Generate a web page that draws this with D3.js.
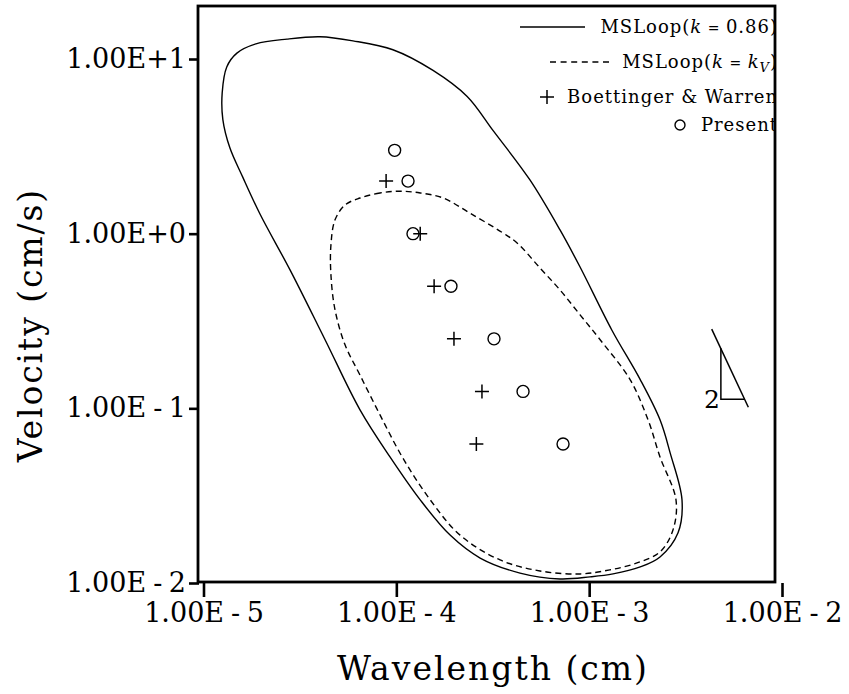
<html>
<head>
<meta charset="utf-8">
<title>MSLoop</title>
<script src="https://d3js.org/d3.v7.min.js"></script>
<style>
  body { margin: 0; background: #fff; }
  text { font-family: "DejaVu Serif", serif; fill: #000; }
</style>
</head>
<body>
<div id="chart"></div>
<script>
// ticks
var xTicks = [1e-5, 1e-4, 1e-3, 1e-2];
var yTicks = [1e-2, 1e-1, 1, 10];
var xTickLabels = ["1.00E-5", "1.00E-4", "1.00E-3", "1.00E-2"];
var yTickLabels = ["1.00E-2", "1.00E-1", "1.00E+0", "1.00E+1"];

// MSLoop k = 0.86 (solid) - wavelength (cm), velocity (cm/s)
var loopSolidX = [4.02e-5, 2.71e-5, 1.87e-5, 1.49e-5, 1.32e-5, 1.25e-5, 1.26e-5, 1.37e-5, 1.60e-5, 1.96e-5,
  2.81e-5, 4.27e-5, 6.48e-5, 9.27e-5, 1.33e-4, 1.90e-4, 2.72e-4, 4.38e-4, 7.06e-4, 1.01e-3,
  1.33e-3, 1.84e-3, 2.33e-3, 2.89e-3, 3.03e-3, 2.63e-3, 2.33e-3, 1.84e-3, 1.31e-3, 8.97e-4,
  7.06e-4, 4.93e-4, 3.17e-4, 2.33e-4, 1.55e-4, 9.6e-5, 5.96e-5];
var loopSolidV = [13.4, 13.0, 12.2, 10.8, 9.0, 6.4, 4.5, 3.1, 2.1, 1.3,
  0.62, 0.247, 0.098, 0.0527, 0.0299, 0.0188, 0.0139, 0.0114, 0.01055, 0.01084,
  0.01127, 0.01236, 0.0141, 0.0194, 0.0299, 0.0556, 0.0859, 0.146, 0.281, 0.644,
  1.05, 2.03, 3.9, 6.1, 8.6, 11.3, 12.7];

// MSLoop k = kV (dashed)
var loopDashX = [1.05e-4, 8.23e-5, 6.48e-5, 5.42e-5, 4.81e-5, 4.58e-5, 4.58e-5, 4.81e-5, 5.42e-5, 6.48e-5,
  8.23e-5, 1.08e-4, 1.50e-4, 2.14e-4, 3.45e-4, 5.56e-4, 8.97e-4, 1.28e-3, 1.77e-3, 2.33e-3,
  2.72e-3, 2.82e-3, 2.33e-3, 2.02e-3, 1.63e-3, 1.14e-3, 8.97e-4, 7.06e-4, 5.56e-4, 4.23e-4,
  3.57e-4, 2.41e-4, 1.75e-4, 1.33e-4];
var loopDashV = [1.75, 1.71, 1.60, 1.46, 1.20, 0.861, 0.58, 0.366, 0.231, 0.155,
  0.0917, 0.052, 0.0299, 0.0188, 0.01355, 0.01172, 0.01127, 0.01189, 0.01303, 0.01507,
  0.0201, 0.0299, 0.0527, 0.0859, 0.146, 0.247, 0.343, 0.476, 0.636, 0.885,
  1.01, 1.31, 1.60, 1.71];

// Boettinger & Warren (+)
var bwX = [8.85e-5, 1.33e-4, 1.57e-4, 1.99e-4, 2.78e-4, 2.60e-4];
var bwV = [2, 1, 0.5, 0.25, 0.125, 0.0625];

// Present (o)
var presentX = [9.8e-5, 1.15e-4, 1.22e-4, 1.92e-4, 3.21e-4, 4.54e-4, 7.32e-4];
var presentV = [3, 2, 1, 0.5, 0.25, 0.125, 0.0625];

// slope triangle (slope 2)
var slopeX = [4.32e-3, 6.69e-3];
var slopeV = [0.284, 0.1014];
var triX = [4.82e-3, 4.82e-3, 6.36e-3];
var triV = [0.221, 0.1128, 0.1128];

var W = 849, H = 694;
var svg = d3.select("#chart").append("svg")
  .attr("width", W).attr("height", H);

var x = d3.scaleLog().domain([1e-5, 1e-2]).range([203.5, 782]);
var y = d3.scaleLog().domain([1e-2, 10]).range([583, 59]);

var fL = 198, fR = 775, fT = 6, fB = 582;

// clip to frame
svg.append("clipPath").attr("id", "clip")
  .append("rect").attr("x", fL).attr("y", fT).attr("width", fR - fL).attr("height", fB - fT);

var plot = svg.append("g").attr("clip-path", "url(#clip)");

var line = d3.line()
  .x(function(d) { return x(d[0]); })
  .y(function(d) { return y(d[1]); })
  .curve(d3.curveCatmullRomClosed.alpha(0.5));

plot.append("path")
  .datum(d3.zip(loopSolidX, loopSolidV))
  .attr("d", line)
  .attr("fill", "none").attr("stroke", "#000").attr("stroke-width", 1.4);

plot.append("path")
  .datum(d3.zip(loopDashX, loopDashV))
  .attr("d", line)
  .attr("fill", "none").attr("stroke", "#000").attr("stroke-width", 1.4)
  .attr("stroke-dasharray", "6,4");

// markers
var cross = 7;
plot.append("g").selectAll("path")
  .data(d3.zip(bwX, bwV)).enter().append("path")
  .attr("d", function(d) {
    var cx = x(d[0]), cy = y(d[1]);
    return "M" + (cx - cross) + "," + cy + "H" + (cx + cross) + "M" + cx + "," + (cy - cross) + "V" + (cy + cross);
  })
  .attr("stroke", "#000").attr("stroke-width", 1.5);

plot.append("g").selectAll("circle")
  .data(d3.zip(presentX, presentV)).enter().append("circle")
  .attr("cx", function(d) { return x(d[0]); })
  .attr("cy", function(d) { return y(d[1]); })
  .attr("r", 6)
  .attr("fill", "none").attr("stroke", "#000").attr("stroke-width", 1.4);

// slope triangle
var straight = d3.line().x(function(d) { return x(d[0]); }).y(function(d) { return y(d[1]); });
plot.append("path").datum(d3.zip(slopeX, slopeV)).attr("d", straight)
  .attr("fill", "none").attr("stroke", "#000").attr("stroke-width", 1.5);
plot.append("path").datum(d3.zip(triX, triV)).attr("d", straight)
  .attr("fill", "none").attr("stroke", "#000").attr("stroke-width", 1.5);
plot.append("text")
  .attr("x", x(triX[1]) - 1).attr("y", y(triV[1]) + 9)
  .attr("text-anchor", "end")
  .style("font-size", "25px")
  .text("2");

// legend
var leg = plot.append("g").style("font-size", "18px").style("letter-spacing", "1px");
var lx = 778;
leg.append("line").attr("x1", 520).attr("x2", 585).attr("y1", 27).attr("y2", 27)
  .attr("stroke", "#000").attr("stroke-width", 1.4);
var t1 = leg.append("text").attr("x", lx).attr("y", 33).attr("text-anchor", "end");
t1.append("tspan").text("MSLoop(");
t1.append("tspan").style("font-style", "italic").text("k");
t1.append("tspan").style("font-size", "14px").text(" = ");
t1.append("tspan").text("0.86)");

leg.append("line").attr("x1", 550).attr("x2", 611).attr("y1", 62).attr("y2", 62)
  .attr("stroke", "#000").attr("stroke-width", 1.4).attr("stroke-dasharray", "6,4.6");
var t2 = leg.append("text").attr("x", lx).attr("y", 68).attr("text-anchor", "end");
t2.append("tspan").text("MSLoop(");
t2.append("tspan").style("font-style", "italic").text("k");
t2.append("tspan").style("font-size", "14px").text(" = ");
t2.append("tspan").style("font-style", "italic").text("k");
t2.append("tspan").style("font-style", "italic").style("font-size", "13px").attr("dy", 4).text("V");
t2.append("tspan").attr("dy", -4).text(")");

leg.append("path").attr("d", "M540,97H554M547,90V104")
  .attr("stroke", "#000").attr("stroke-width", 1.5);
leg.append("text").attr("x", lx).attr("y", 103).attr("text-anchor", "end").text("Boettinger & Warren");

leg.append("circle").attr("cx", 680).attr("cy", 125).attr("r", 5)
  .attr("fill", "none").attr("stroke", "#000").attr("stroke-width", 1.4);
leg.append("text").attr("x", lx).attr("y", 131).attr("text-anchor", "end").text("Present");

// frame
svg.append("rect").attr("x", fL).attr("y", fT).attr("width", fR - fL).attr("height", fB - fT)
  .attr("fill", "none").attr("stroke", "#000").attr("stroke-width", 2.8);

// tick labels: the minus sign is set as wide as the plus sign
function sciLabel(sel) {
  sel.each(function() {
    var t = d3.select(this), s = t.text();
    var k = s.indexOf("E") + 1, sign = s.charAt(k);
    t.text(null);
    t.append("tspan").text(s.slice(0, k));
    var pad = sign === "-" ? 6.5 : 0;
    t.append("tspan").attr("dx", pad).text(sign);
    t.append("tspan").attr("dx", pad).text(s.slice(k + 1));
  });
}

var xAxis = svg.append("g").attr("transform", "translate(0," + 583 + ")")
  .call(d3.axisBottom(x).tickValues(xTicks).tickSize(14).tickPadding(6)
    .tickFormat(function(d, i) { return xTickLabels[i]; }));
xAxis.select(".domain").remove();
xAxis.selectAll(".tick line").attr("stroke-width", 2.6);
xAxis.selectAll("text").style("font-size", "27px").style("font-family", "DejaVu Serif").call(sciLabel);

var yAxis = svg.append("g").attr("transform", "translate(" + 199 + ",0)")
  .call(d3.axisLeft(y).tickValues(yTicks).tickSize(10).tickPadding(3)
    .tickFormat(function(d, i) { return yTickLabels[i]; }));
yAxis.select(".domain").remove();
yAxis.selectAll(".tick line").attr("stroke-width", 2.6);
yAxis.selectAll("text").style("font-size", "27px").style("font-family", "DejaVu Serif").call(sciLabel);

// titles
svg.append("text").attr("x", 493).attr("y", 680).attr("text-anchor", "middle")
  .style("font-size", "33px").style("letter-spacing", "2px").text("Wavelength (cm)");
svg.append("text").attr("transform", "translate(42,325) rotate(-90)")
  .attr("text-anchor", "middle")
  .style("font-size", "33px").style("letter-spacing", "1.9px").text("Velocity (cm/s)");
</script>
</body>
</html>
